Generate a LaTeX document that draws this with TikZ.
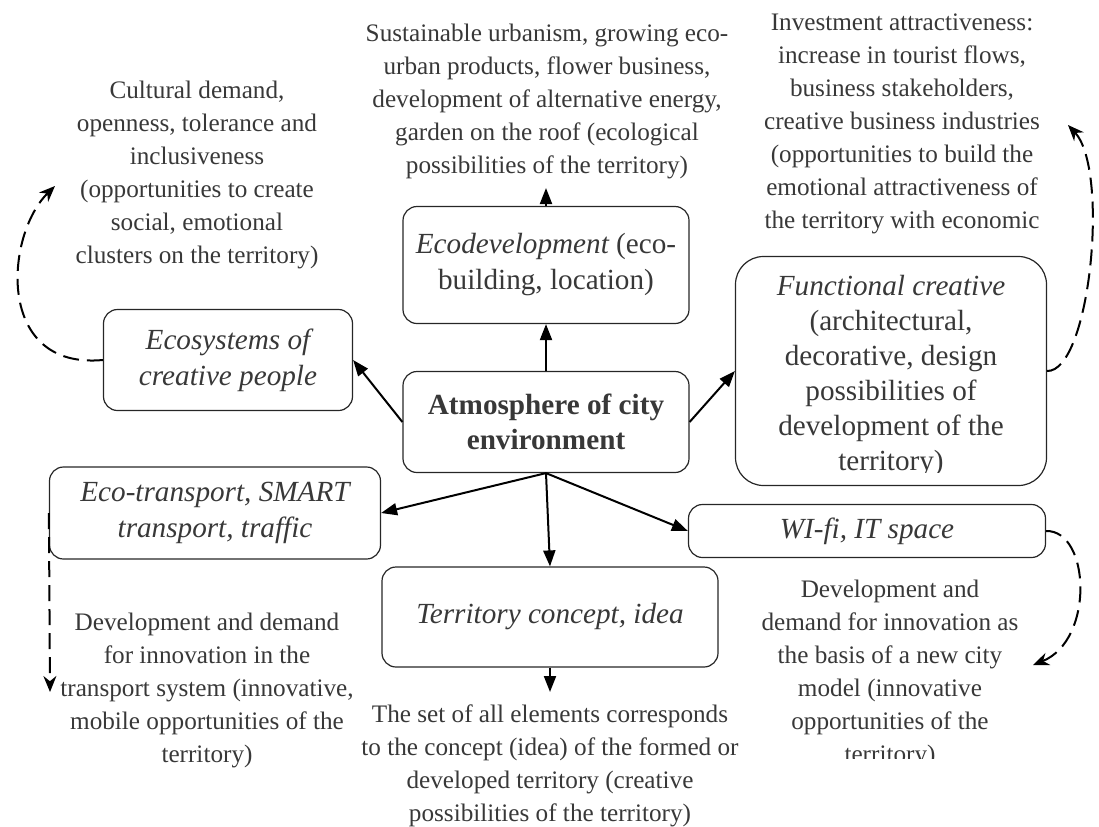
\documentclass[tikz,border=0pt]{standalone}
\usepackage{fontspec}
\setmainfont{Liberation Serif}
\usepackage{tikz}
\usetikzlibrary{arrows.meta}
\definecolor{txtgray}{gray}{0.22}

\begin{document}
\begin{tikzpicture}[x=0.5pt,y=-0.5pt,
  box/.style={draw=black!85,line width=0.6pt,rounded corners=7pt,align=center,text=txtgray,
    font=\fontsize{14.6}{18}\selectfont\itshape,inner sep=2pt},
  note/.style={align=center,text=txtgray,font=\fontsize{12.6}{16.5}\selectfont,inner sep=0pt},
  link/.style={line width=1pt,-{Triangle[length=8pt,width=6pt]}},
  dlink/.style={line width=1pt,dash pattern=on 8pt off 4pt,-{Stealth[length=8pt,width=6.5pt]}}]
\useasboundingbox (0,0) rectangle (1099,826);

\node[box,font=\fontsize{14.6}{17.5}\selectfont\bfseries,minimum width=143pt,minimum height=50.5pt] (atm) at (546,422) {Atmosphere of city\\environment};
\node[box,minimum width=143pt,minimum height=58.5pt] (ecod) at (546,265) {Ecodevelopment {\upshape(eco-}\\{\upshape building, location)}};
\node[box,minimum width=124.5pt,minimum height=50.5pt] (ecos) at (228,360) {Ecosystems of\\creative people};
\node[box,minimum width=155.5pt,minimum height=114.5pt,rounded corners=14pt] (func) at (891,371) {};
\begin{scope}
\clip (736,257) rectangle (1047,472);
\node[box,draw=none,font=\fontsize{14.6}{17.5}\selectfont] (functxt) at (891,376) {\textit{Functional creative}\\(architectural,\\decorative, design\\possibilities of\\development of the\\territory)};
\end{scope}
\node[box,minimum width=165.5pt,minimum height=46pt] (trans) at (215,513) {Eco-transport, SMART\\transport, traffic};
\node[box,minimum width=178.5pt,minimum height=26.5pt] (wifi) at (867,531) {WI-fi, IT space};
\node[box,minimum width=168pt,minimum height=50pt] (terr) at (550,617) {Territory concept, idea};

\node[note] (cultural) at (197,175) {Cultural demand,\\openness, tolerance and\\inclusiveness\\(opportunities to create\\social, emotional\\clusters on the territory)};
\node[note] (sustain) at (547,101) {Sustainable urbanism, growing eco-\\urban products, flower business,\\development of alternative energy,\\garden on the roof (ecological\\possibilities of the territory)};
\node[note] (invest) at (902,124) {Investment attractiveness:\\increase in tourist flows,\\business stakeholders,\\creative business industries\\(opportunities to build the\\emotional attractiveness of\\the territory with economic};
\node[note] (transdev) at (207,690) {Development and demand\\for innovation in the\\transport system (innovative,\\mobile opportunities of the\\territory)};
\node[note] (concept) at (550,766) {The set of all elements corresponds\\to the concept (idea) of the formed or\\developed territory (creative\\possibilities of the territory)};
\begin{scope}
\clip (700,570) rectangle (1080,758);
\node[note] (citymodel) at (890,674) {Development and\\demand for innovation as\\the basis of a new city\\model (innovative\\opportunities of the\\territory)};
\end{scope}

\coordinate (ecodtip) at (546,188);
\coordinate (terrtip) at (550,692);
\coordinate (ecostip) at (55,186);
\coordinate (functip) at (1068,125);
\coordinate (wifitip) at (1033,665);
\coordinate (transtip) at (50,692);

\draw[link] (atm.north) -- (ecod.south);
\draw[link] (ecod.north) -- (ecodtip);
\draw[link] (atm.west) -- (ecos.east);
\draw[link] (atm.east) -- (func.west);
\draw[link] (atm.south) -- (trans.east);
\draw[link] (atm.south) -- (terr.north);
\draw[link] (atm.south) -- (wifi.west);
\draw[link] (terr.south) -- (terrtip);
\draw[dlink] (ecos.west) .. controls (-5,370) and (5,235) .. (ecostip);
\draw[dlink] (func.east) .. controls (1090,372) and (1110,170) .. (functip);
\draw[dlink] (wifi.east) .. controls (1090,530) and (1095,640) .. (wifitip);
\draw[dlink] (trans.west) -- (transtip);
\end{tikzpicture}
\end{document}
